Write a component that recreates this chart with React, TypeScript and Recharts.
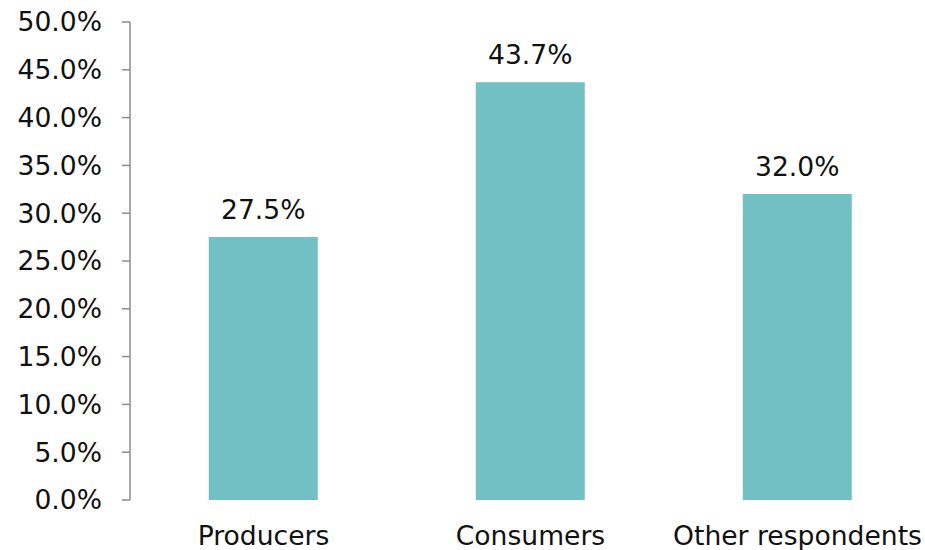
import React from 'react';
import { BarChart, Bar, XAxis, YAxis, LabelList } from 'recharts';

const categories = ['Producers', 'Consumers', 'Other respondents'];
const shares = [27.5, 43.7, 32.0];
const yTicks = [0, 5, 10, 15, 20, 25, 30, 35, 40, 45, 50];
const boundaryTicks = [0, 1, 2, 3];

const data = categories.map((name, i) => ({ name, value: shares[i] }));

const AXIS = '#8c8c8c';
const BAR = '#72bfc4';
const FONT = '"DejaVu Sans", Verdana, sans-serif';
const TEXT = { fill: '#111', fontSize: 26.6, fontFamily: FONT };

export default function App() {
  return (
    <div style={{ position: 'absolute', left: 0, top: 0, fontFamily: FONT }}>
      <BarChart
        width={925}
        height={550}
        data={data}
        margin={{ top: 22, right: -6, left: 0, bottom: 0 }}
        barCategoryGap="29.5%"
      >
        {/* separate number axis just for the tick marks between categories */}
        <XAxis
          xAxisId="grid"
          type="number"
          domain={[0, 3]}
          ticks={boundaryTicks}
          tickFormatter={() => ''}
          height={0}
          tickSize={8}
          stroke={AXIS}
          strokeWidth={1.5}
          allowDataOverflow
        />
        <XAxis
          xAxisId="cat"
          dataKey="name"
          height={50}
          axisLine={false}
          tickLine={false}
          tickSize={0}
          tickMargin={26}
          interval={0}
          tick={TEXT}
        />
        <YAxis
          domain={[0, 50]}
          ticks={yTicks}
          width={130}
          tickSize={8}
          tickMargin={20}
          stroke={AXIS}
          strokeWidth={1.5}
          tickFormatter={(v: number) => `${v.toFixed(1)}%`}
          tick={TEXT}
        />
        <Bar dataKey="value" xAxisId="cat" fill={BAR} isAnimationActive={false}>
          <LabelList
            dataKey="value"
            position="top"
            offset={18}
            formatter={(v: any) => `${Number(v).toFixed(1)}%`}
            style={TEXT}
          />
        </Bar>
      </BarChart>
    </div>
  );
}
